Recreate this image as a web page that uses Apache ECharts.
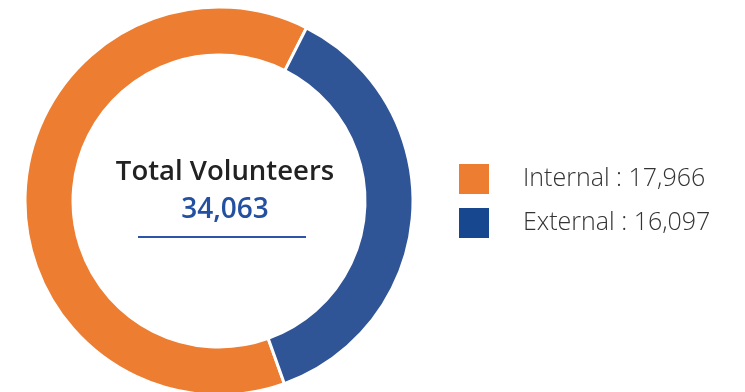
<!DOCTYPE html>
<html>
<head>
<meta charset="utf-8">
<script src="https://cdn.jsdelivr.net/npm/echarts@6/dist/echarts.min.js"></script>
<style>
  html, body { margin: 0; padding: 0; background: #fff; }
  #main { width: 745px; height: 392px; }
</style>
</head>
<body>
<div id="main"></div>
<script>
// categories and the numbers shown in the legend
const categories = ['Internal', 'External']
const counts = [17966, 16097]
const total = 34063
// share of the ring as drawn in the picture (degrees of arc)
const arcShares = [226.5, 133.5]
const colors = ['#ED7D31', '#2F5597']
const legendColors = ['#ED7D31', '#17488F']

const fmt = n => n.toLocaleString('en-US')

var myChart = echarts.init(document.getElementById('main'))

var option = {
  animation: false,
  color: colors,
  legend: {
    orient: 'vertical',
    left: 457,
    top: 162,
    padding: 0,
    itemWidth: 32,
    itemHeight: 32,
    itemGap: 10,
    icon: 'rect',
    selectedMode: false,
    data: categories.map((c, i) => ({ name: c, itemStyle: { color: legendColors[i] } })),
    formatter: name => name + ' : ' + fmt(counts[categories.indexOf(name)]),
    textStyle: {
      fontFamily: 'Open Sans',
      fontSize: 25,
      fontWeight: 300,
      color: '#333',
      padding: [0, 0, 0, 28]
    }
  },
  graphic: [
    {
      type: 'text',
      z: 100,
      style: {
        text: 'Total Volunteers',
        x: 225,
        y: 172,
        textAlign: 'center',
        textVerticalAlign: 'middle',
        fontFamily: 'Open Sans',
        fontWeight: 600,
        fontSize: 27.5,
        fill: '#222'
      }
    },
    {
      type: 'text',
      z: 100,
      style: {
        text: fmt(total),
        x: 225,
        y: 210,
        textAlign: 'center',
        textVerticalAlign: 'middle',
        fontFamily: 'Open Sans',
        fontWeight: 600,
        fontSize: 28,
        fill: '#2350A0'
      }
    },
    {
      type: 'line',
      z: 100,
      shape: { x1: 138, y1: 237, x2: 306, y2: 237 },
      style: { stroke: '#2A56A8', lineWidth: 2 }
    }
  ],
  series: [
    {
      type: 'pie',
      center: [219, 201],
      radius: [146, 194],
      startAngle: -70.3,
      clockwise: true,
      label: { show: false },
      labelLine: { show: false },
      silent: true,
      itemStyle: { borderColor: '#fff', borderWidth: 3 },
      data: categories.map((c, i) => ({ name: c, value: arcShares[i] }))
    }
  ]
}

myChart.setOption(option)
</script>
</body>
</html>
